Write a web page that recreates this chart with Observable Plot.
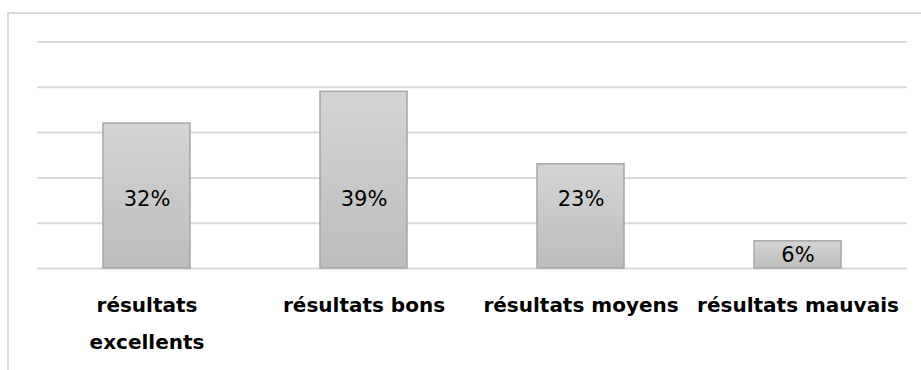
<!DOCTYPE html>
<html>
<head>
<meta charset="utf-8">
<script src="https://cdn.jsdelivr.net/npm/d3@7"></script>
<script src="https://cdn.jsdelivr.net/npm/@observablehq/plot@0.6"></script>
<style>
  html, body { margin: 0; padding: 0; background: #fff; }
  #wrap { position: relative; width: 921px; height: 370px; overflow: hidden; }
  #border { position: absolute; left: 7px; top: 12px; width: 940px; height: 420px; border: 2px solid #d9d9d9; box-sizing: border-box; }
  #chart { position: absolute; left: 0; top: 0; }
</style>
</head>
<body>
<div id="wrap"><div id="border"></div><div id="chart"></div></div>
<script>
const categories = ["résultats\nexcellents", "résultats bons", "résultats moyens", "résultats mauvais"];
const values = [32, 39, 23, 6];
const labels = ["32%", "39%", "23%", "6%"];
const gridTicks = [0, 10, 20, 30, 40, 50];

const data = categories.map((c, i) => ({ cat: c, value: values[i], label: labels[i] }));

const font = "'DejaVu Sans', Verdana, sans-serif";

const plot = Plot.plot({
  width: 921,
  height: 370,
  marginLeft: 37,
  marginRight: 14,
  marginTop: 41.5,
  marginBottom: 102,
  style: { fontFamily: font, background: "transparent", overflow: "visible" },
  x: { domain: categories, paddingInner: 0.6, paddingOuter: 0.3, axis: null },
  y: { domain: [0, 50], axis: null },
  marks: [
    Plot.ruleY(gridTicks, { stroke: "#d9d9d9", strokeWidth: 2 }),
    Plot.barY(data, { x: "cat", y: "value", fill: "url(#barGrad)", stroke: "#a6a6a6", strokeWidth: 1.5 }),
    Plot.text(data, {
      x: "cat",
      y: d => d.value > 10 ? 15.2 : d.value / 2,
      text: "label",
      fontSize: 21,
      fill: "#000",
      fontFamily: font
    }),
    Plot.text(data, {
      x: "cat",
      y: 0,
      text: "cat",
      dy: 17,
      lineAnchor: "top",
      lineHeight: 1.85,
      fontSize: 20,
      fontWeight: "bold",
      fill: "#000",
      fontFamily: font
    })
  ]
});

const ns = "http://www.w3.org/2000/svg";
const defs = document.createElementNS(ns, "defs");
const grad = document.createElementNS(ns, "linearGradient");
grad.setAttribute("id", "barGrad");
grad.setAttribute("x1", "0"); grad.setAttribute("y1", "0");
grad.setAttribute("x2", "0"); grad.setAttribute("y2", "1");
[["0%", "#d4d4d4"], ["100%", "#bdbdbd"]].forEach(([o, c]) => {
  const s = document.createElementNS(ns, "stop");
  s.setAttribute("offset", o); s.setAttribute("stop-color", c);
  grad.appendChild(s);
});
defs.appendChild(grad);
plot.insertBefore(defs, plot.firstChild);

document.getElementById("chart").appendChild(plot);
</script>
</body>
</html>
